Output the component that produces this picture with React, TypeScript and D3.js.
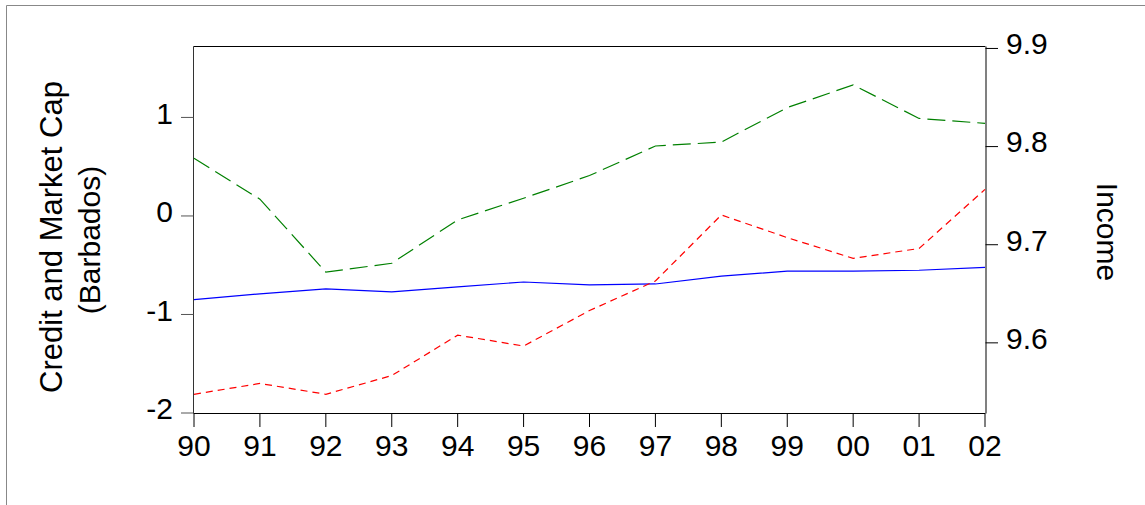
import React from "react";
import * as d3 from "d3";

const years = ["90","91","92","93","94","95","96","97","98","99","00","01","02"];
const marketCap = [0.585, 0.17, -0.57, -0.48, -0.04, 0.18, 0.41, 0.71, 0.75, 1.10, 1.33, 0.99, 0.94];
const credit = [-1.81, -1.70, -1.81, -1.62, -1.21, -1.32, -0.96, -0.66, 0.01, -0.22, -0.43, -0.33, 0.27];
const income = [9.644, 9.650, 9.655, 9.652, 9.657, 9.662, 9.659, 9.660, 9.668, 9.673, 9.673, 9.674, 9.677];
const leftTicks = [-2, -1, 0, 1];
const rightTicks = [9.6, 9.7, 9.8, 9.9];

const W = 1145, H = 505;
const L = 193.5, R = 985.5, T = 46.5, B = 413.5;
const FONT = "'Liberation Sans', Arial, sans-serif";

export default function App() {
  const x = d3.scalePoint<string>().domain(years).range([L + 0.5, R - 0.5]);
  const yL = d3.scaleLinear().domain([-2.005, 1.72]).range([B, T]);
  const yR = d3.scaleLinear().domain([9.528, 9.902]).range([B, T]);
  const lineL = d3.line<number>().x((_, i) => x(years[i])!).y((d) => yL(d));
  const lineR = d3.line<number>().x((_, i) => x(years[i])!).y((d) => yR(d));

  return (
    <svg width={W} height={H} style={{ position: "absolute", left: 0, top: 0 }}>
      <rect x={0} y={0} width={W} height={H} fill="white" />
      <line x1={6.5} y1={5.5} x2={W} y2={5.5} stroke="#888" strokeWidth={1} />
      <line x1={6.5} y1={5.5} x2={6.5} y2={H} stroke="#888" strokeWidth={1} />

      {/* plot frame */}
      <line x1={L} y1={T} x2={R} y2={T} stroke="#000" strokeWidth={1} />
      <line x1={L} y1={B} x2={R} y2={B} stroke="#000" strokeWidth={1} />
      <line x1={L} y1={T} x2={L} y2={B} stroke="#333" strokeWidth={1} />
      <line x1={R + 0.5} y1={T} x2={R + 0.5} y2={B} stroke="#808080" strokeWidth={2} />

      {/* left ticks */}
      {leftTicks.map((t) => (
        <g key={"l" + t}>
          <line x1={181} x2={L} y1={yL(t)} y2={yL(t)} stroke="#555" strokeWidth={1} />
          <text x={173} y={yL(t) - 4.5} dy="0.36em" textAnchor="end" fontFamily={FONT} fontSize={30} fill="#000">
            {t < 0 ? "-" + Math.abs(t) : String(t)}
          </text>
        </g>
      ))}

      {/* right ticks */}
      {rightTicks.map((t) => (
        <g key={"r" + t}>
          <line x1={R} x2={998} y1={yR(t)} y2={yR(t)} stroke="#000" strokeWidth={1} />
          <text x={1006} y={yR(t) - 5} dy="0.36em" textAnchor="start" fontFamily={FONT} fontSize={30} fill="#000">
            {t.toFixed(1)}
          </text>
        </g>
      ))}

      {/* x ticks */}
      {years.map((yr) => (
        <g key={"x" + yr}>
          <line x1={x(yr)} x2={x(yr)} y1={B} y2={427} stroke="#000" strokeWidth={1} />
          <text x={x(yr)} y={456} textAnchor="middle" fontFamily={FONT} fontSize={30} fill="#000">
            {yr}
          </text>
        </g>
      ))}

      {/* series */}
      <path d={lineR(income)!} fill="none" stroke="#0000ff" strokeWidth={1.2} />
      <path d={lineL(credit)!} fill="none" stroke="#ff0000" strokeWidth={1.2} strokeDasharray="7,5" />
      <path d={lineL(marketCap)!} fill="none" stroke="#008000" strokeWidth={1.2} strokeDasharray="18,7" />

      {/* titles */}
      <text transform="translate(62,237) rotate(-90)" textAnchor="middle" fontFamily={FONT} fontSize={31} fill="#000">
        Credit and Market Cap
      </text>
      <text transform="translate(100,240) rotate(-90)" textAnchor="middle" fontFamily={FONT} fontSize={30} fill="#000">
        (Barbados)
      </text>
      <text transform="translate(1097,232) rotate(90)" textAnchor="middle" fontFamily={FONT} fontSize={30} fill="#000">
        Income
      </text>
    </svg>
  );
}
